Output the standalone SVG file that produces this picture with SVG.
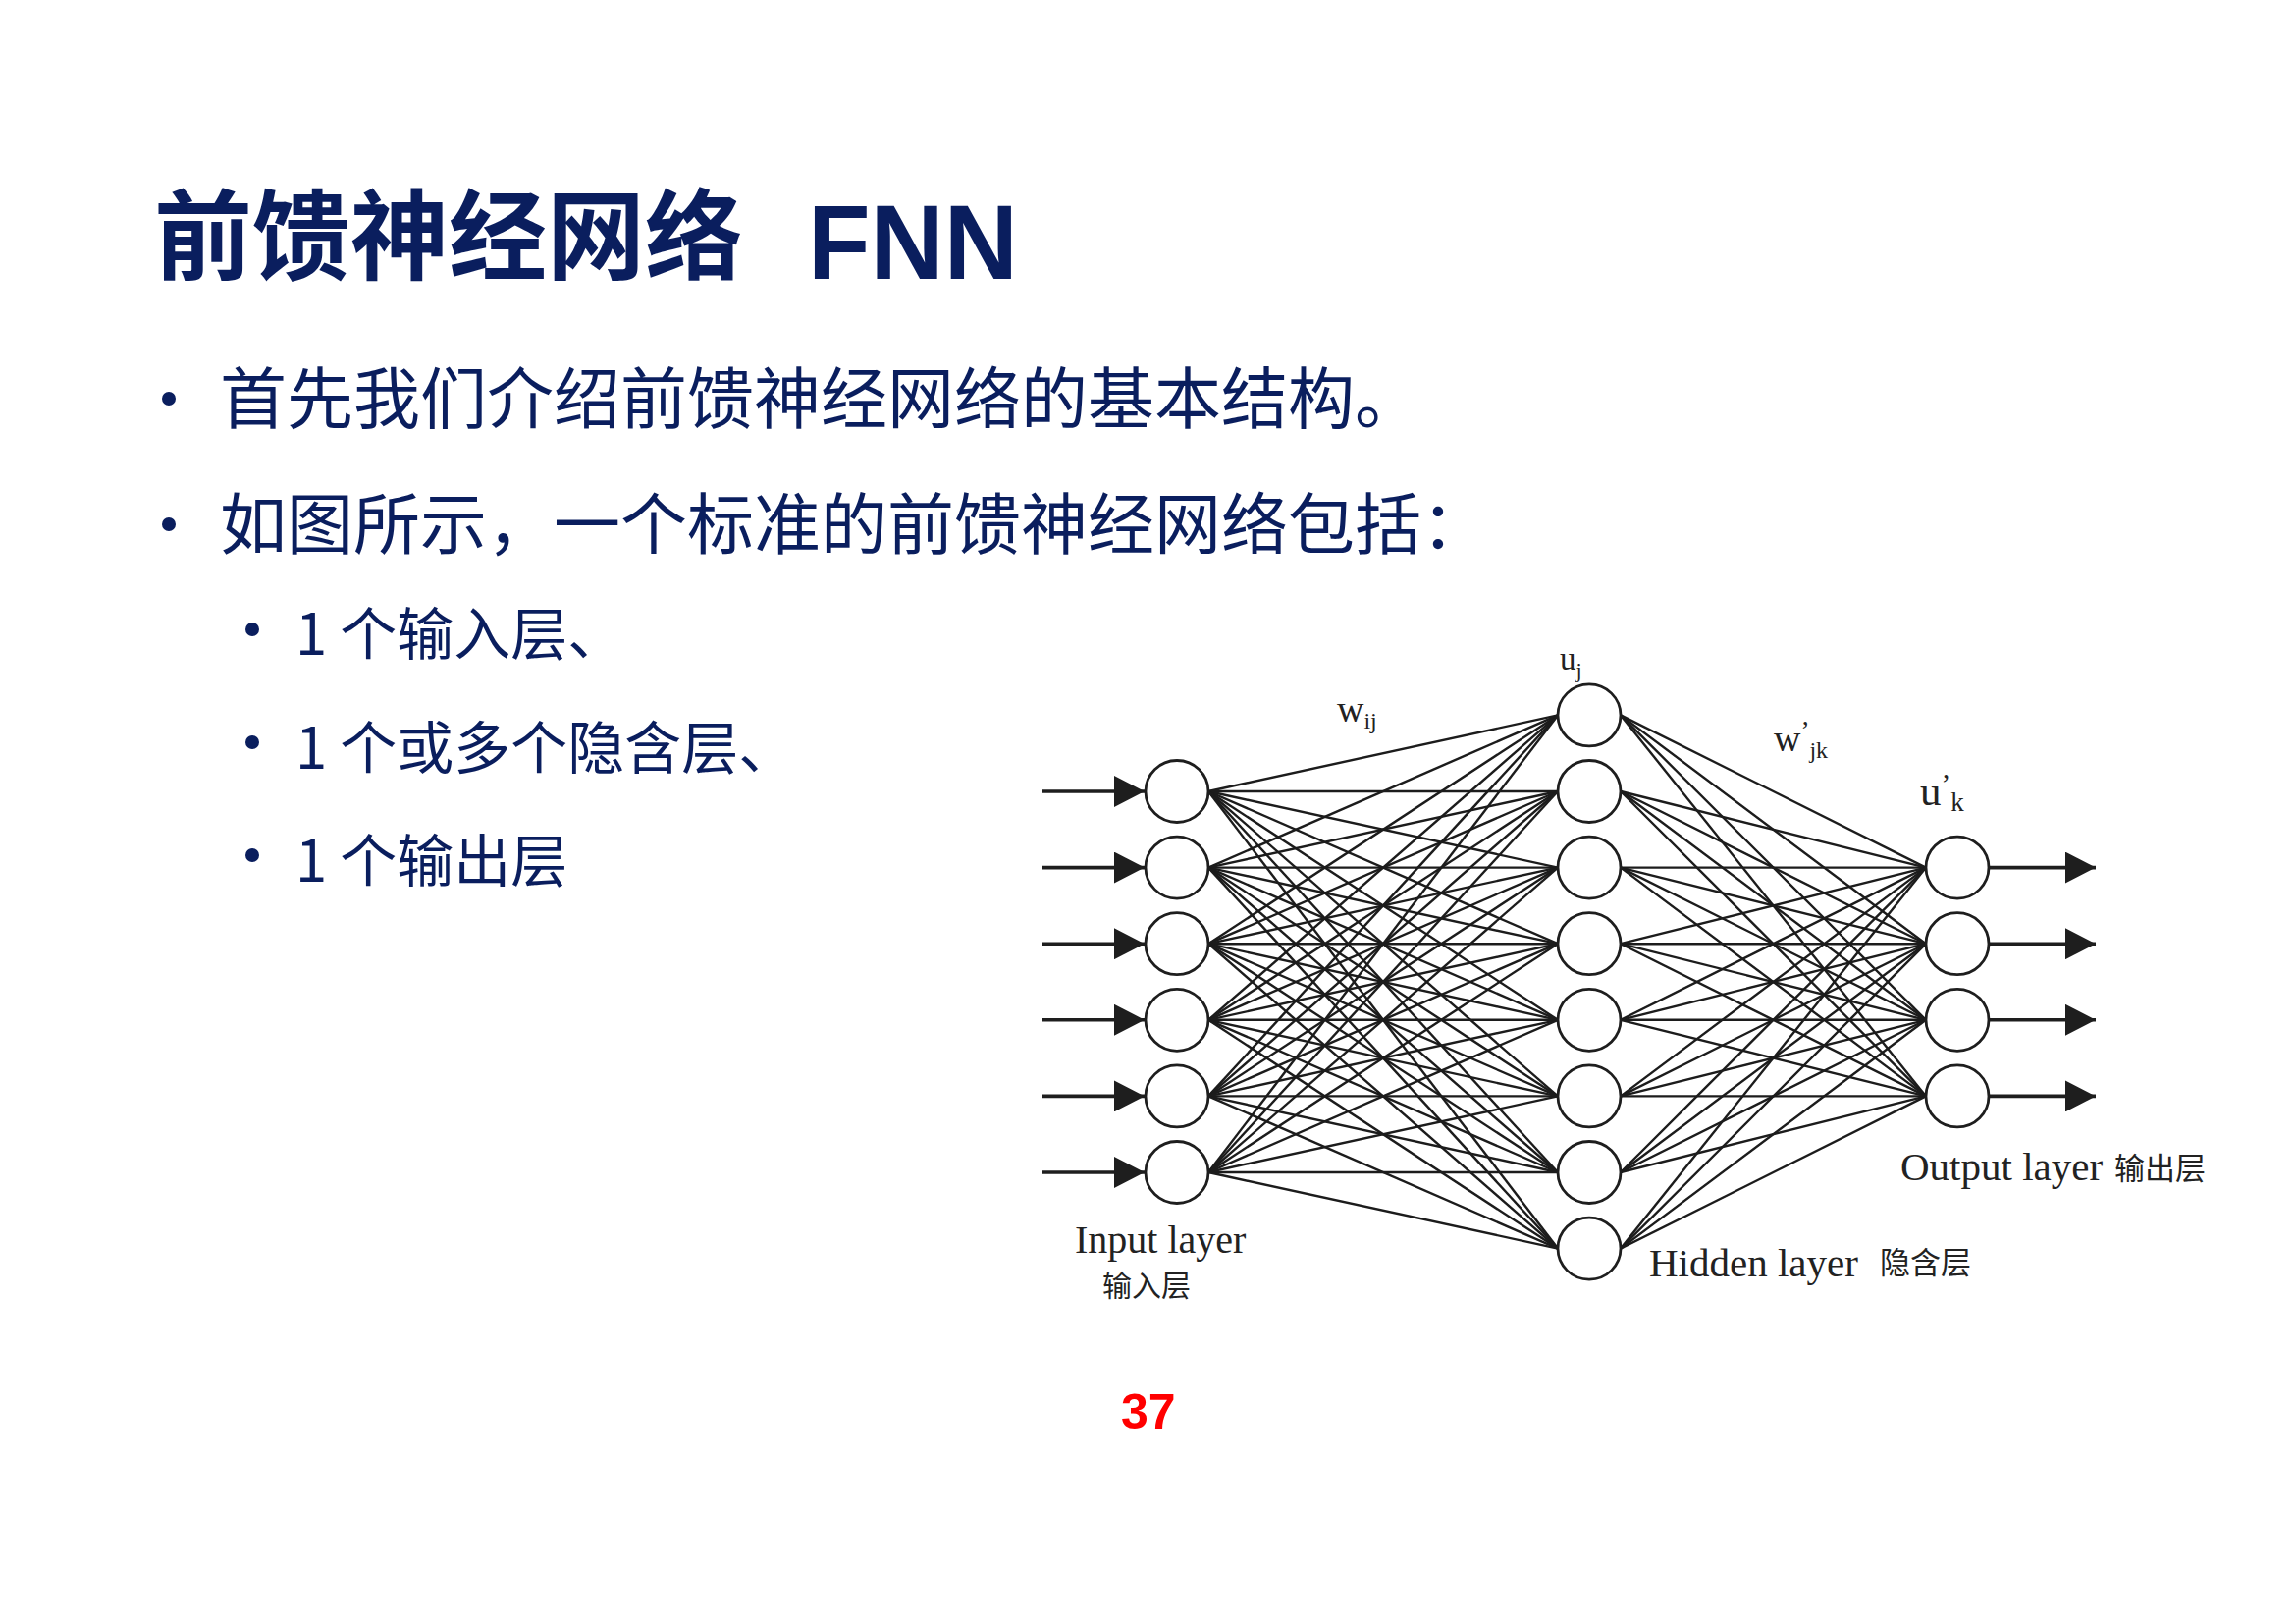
<svg xmlns="http://www.w3.org/2000/svg" width="2339" height="1654" viewBox="0 0 2339 1654">
<style>
.title{font-family:"Noto Sans CJK SC","Noto Sans",sans-serif;font-weight:bold;fill:#0A1E5E}
.fnn{font-family:"Liberation Sans",Arial,sans-serif;font-weight:bold;fill:#0A1E5E}
.body{font-family:"Noto Sans CJK SC","Noto Sans",sans-serif;fill:#0A1E5E}
.bul{fill:#0A1E5E}
.n{fill:#fff;stroke:#1e1e1e;stroke-width:2.8}
.e{stroke:#1c1c1c;stroke-width:2.4}
.a{stroke:#1e1e1e;stroke-width:3.6}
.lbl{font-family:"Liberation Serif","Times New Roman",serif;fill:#222}
.cjk{font-family:"Noto Sans CJK SC",sans-serif;fill:#222}
.pg{font-family:"Liberation Sans",Arial,sans-serif;font-weight:bold;fill:#FF0000}
</style>
<defs>
<marker id="ah" markerUnits="userSpaceOnUse" markerWidth="32" markerHeight="32" refX="31" refY="16" orient="auto">
<path d="M0,0 L31,16 L0,32 z" fill="#1e1e1e"/>
</marker>
</defs>
<rect width="2339" height="1654" fill="#fff"/>

<g id="title">
<text class="title" x="157" y="277" font-size="100">前馈神经网络</text>
<text class="fnn" x="823" y="284" font-size="108" textLength="214" lengthAdjust="spacingAndGlyphs">FNN</text>
</g>

<g id="bullets">
<circle class="bul" cx="172" cy="406" r="7"/>
<text class="body" x="224" y="431" font-size="68">首先我们介绍前馈神经网络的基本结构。</text>
<circle class="bul" cx="172" cy="534" r="7"/>
<text class="body" x="224" y="559" font-size="68">如图所示，一个标准的前馈神经网络包括：</text>
<circle class="bul" cx="257" cy="641" r="7"/>
<text class="body" x="301" y="667" font-size="58">1 个输入层、</text>
<circle class="bul" cx="257" cy="756" r="7"/>
<text class="body" x="301" y="783" font-size="58">1 个或多个隐含层、</text>
<circle class="bul" cx="257" cy="871" r="7"/>
<text class="body" x="301" y="898" font-size="58">1 个输出层</text>
</g>

<g id="connectors">
<line class="a" x1="1062" y1="806" x2="1166" y2="806" marker-end="url(#ah)"/>
<line class="a" x1="1062" y1="883.6" x2="1166" y2="883.6" marker-end="url(#ah)"/>
<line class="a" x1="1062" y1="961.2" x2="1166" y2="961.2" marker-end="url(#ah)"/>
<line class="a" x1="1062" y1="1038.8" x2="1166" y2="1038.8" marker-end="url(#ah)"/>
<line class="a" x1="1062" y1="1116.4" x2="1166" y2="1116.4" marker-end="url(#ah)"/>
<line class="a" x1="1062" y1="1194" x2="1166" y2="1194" marker-end="url(#ah)"/>

<line class="e" x1="1231" y1="806" x2="1587" y2="728.4"/>
<line class="e" x1="1231" y1="806" x2="1587" y2="806"/>
<line class="e" x1="1231" y1="806" x2="1587" y2="883.6"/>
<line class="e" x1="1231" y1="806" x2="1587" y2="961.2"/>
<line class="e" x1="1231" y1="806" x2="1587" y2="1038.8"/>
<line class="e" x1="1231" y1="806" x2="1587" y2="1116.4"/>
<line class="e" x1="1231" y1="806" x2="1587" y2="1194"/>
<line class="e" x1="1231" y1="806" x2="1587" y2="1271.6"/>

<line class="e" x1="1231" y1="883.6" x2="1587" y2="728.4"/>
<line class="e" x1="1231" y1="883.6" x2="1587" y2="806"/>
<line class="e" x1="1231" y1="883.6" x2="1587" y2="883.6"/>
<line class="e" x1="1231" y1="883.6" x2="1587" y2="961.2"/>
<line class="e" x1="1231" y1="883.6" x2="1587" y2="1038.8"/>
<line class="e" x1="1231" y1="883.6" x2="1587" y2="1116.4"/>
<line class="e" x1="1231" y1="883.6" x2="1587" y2="1194"/>
<line class="e" x1="1231" y1="883.6" x2="1587" y2="1271.6"/>

<line class="e" x1="1231" y1="961.2" x2="1587" y2="728.4"/>
<line class="e" x1="1231" y1="961.2" x2="1587" y2="806"/>
<line class="e" x1="1231" y1="961.2" x2="1587" y2="883.6"/>
<line class="e" x1="1231" y1="961.2" x2="1587" y2="961.2"/>
<line class="e" x1="1231" y1="961.2" x2="1587" y2="1038.8"/>
<line class="e" x1="1231" y1="961.2" x2="1587" y2="1116.4"/>
<line class="e" x1="1231" y1="961.2" x2="1587" y2="1194"/>
<line class="e" x1="1231" y1="961.2" x2="1587" y2="1271.6"/>

<line class="e" x1="1231" y1="1038.8" x2="1587" y2="728.4"/>
<line class="e" x1="1231" y1="1038.8" x2="1587" y2="806"/>
<line class="e" x1="1231" y1="1038.8" x2="1587" y2="883.6"/>
<line class="e" x1="1231" y1="1038.8" x2="1587" y2="961.2"/>
<line class="e" x1="1231" y1="1038.8" x2="1587" y2="1038.8"/>
<line class="e" x1="1231" y1="1038.8" x2="1587" y2="1116.4"/>
<line class="e" x1="1231" y1="1038.8" x2="1587" y2="1194"/>
<line class="e" x1="1231" y1="1038.8" x2="1587" y2="1271.6"/>

<line class="e" x1="1231" y1="1116.4" x2="1587" y2="728.4"/>
<line class="e" x1="1231" y1="1116.4" x2="1587" y2="806"/>
<line class="e" x1="1231" y1="1116.4" x2="1587" y2="883.6"/>
<line class="e" x1="1231" y1="1116.4" x2="1587" y2="961.2"/>
<line class="e" x1="1231" y1="1116.4" x2="1587" y2="1038.8"/>
<line class="e" x1="1231" y1="1116.4" x2="1587" y2="1116.4"/>
<line class="e" x1="1231" y1="1116.4" x2="1587" y2="1194"/>
<line class="e" x1="1231" y1="1116.4" x2="1587" y2="1271.6"/>

<line class="e" x1="1231" y1="1194" x2="1587" y2="728.4"/>
<line class="e" x1="1231" y1="1194" x2="1587" y2="806"/>
<line class="e" x1="1231" y1="1194" x2="1587" y2="883.6"/>
<line class="e" x1="1231" y1="1194" x2="1587" y2="961.2"/>
<line class="e" x1="1231" y1="1194" x2="1587" y2="1038.8"/>
<line class="e" x1="1231" y1="1194" x2="1587" y2="1116.4"/>
<line class="e" x1="1231" y1="1194" x2="1587" y2="1194"/>
<line class="e" x1="1231" y1="1194" x2="1587" y2="1271.6"/>

<line class="e" x1="1651" y1="728.4" x2="1962" y2="883.6"/>
<line class="e" x1="1651" y1="728.4" x2="1962" y2="961.2"/>
<line class="e" x1="1651" y1="728.4" x2="1962" y2="1038.8"/>
<line class="e" x1="1651" y1="728.4" x2="1962" y2="1116.4"/>
<line class="e" x1="1651" y1="806" x2="1962" y2="883.6"/>
<line class="e" x1="1651" y1="806" x2="1962" y2="961.2"/>
<line class="e" x1="1651" y1="806" x2="1962" y2="1038.8"/>
<line class="e" x1="1651" y1="806" x2="1962" y2="1116.4"/>
<line class="e" x1="1651" y1="883.6" x2="1962" y2="883.6"/>
<line class="e" x1="1651" y1="883.6" x2="1962" y2="961.2"/>
<line class="e" x1="1651" y1="883.6" x2="1962" y2="1038.8"/>
<line class="e" x1="1651" y1="883.6" x2="1962" y2="1116.4"/>
<line class="e" x1="1651" y1="961.2" x2="1962" y2="883.6"/>
<line class="e" x1="1651" y1="961.2" x2="1962" y2="961.2"/>
<line class="e" x1="1651" y1="961.2" x2="1962" y2="1038.8"/>
<line class="e" x1="1651" y1="961.2" x2="1962" y2="1116.4"/>
<line class="e" x1="1651" y1="1038.8" x2="1962" y2="883.6"/>
<line class="e" x1="1651" y1="1038.8" x2="1962" y2="961.2"/>
<line class="e" x1="1651" y1="1038.8" x2="1962" y2="1038.8"/>
<line class="e" x1="1651" y1="1038.8" x2="1962" y2="1116.4"/>
<line class="e" x1="1651" y1="1116.4" x2="1962" y2="883.6"/>
<line class="e" x1="1651" y1="1116.4" x2="1962" y2="961.2"/>
<line class="e" x1="1651" y1="1116.4" x2="1962" y2="1038.8"/>
<line class="e" x1="1651" y1="1116.4" x2="1962" y2="1116.4"/>
<line class="e" x1="1651" y1="1194" x2="1962" y2="883.6"/>
<line class="e" x1="1651" y1="1194" x2="1962" y2="961.2"/>
<line class="e" x1="1651" y1="1194" x2="1962" y2="1038.8"/>
<line class="e" x1="1651" y1="1194" x2="1962" y2="1116.4"/>
<line class="e" x1="1651" y1="1271.6" x2="1962" y2="883.6"/>
<line class="e" x1="1651" y1="1271.6" x2="1962" y2="961.2"/>
<line class="e" x1="1651" y1="1271.6" x2="1962" y2="1038.8"/>
<line class="e" x1="1651" y1="1271.6" x2="1962" y2="1116.4"/>

<line class="a" x1="2026" y1="883.6" x2="2135" y2="883.6" marker-end="url(#ah)"/>
<line class="a" x1="2026" y1="961.2" x2="2135" y2="961.2" marker-end="url(#ah)"/>
<line class="a" x1="2026" y1="1038.8" x2="2135" y2="1038.8" marker-end="url(#ah)"/>
<line class="a" x1="2026" y1="1116.4" x2="2135" y2="1116.4" marker-end="url(#ah)"/>
</g>

<g id="input-layer">
<g id="in1"><ellipse class="n" cx="1199" cy="806" rx="32" ry="31.5"/></g>
<g id="in2"><ellipse class="n" cx="1199" cy="883.6" rx="32" ry="31.5"/></g>
<g id="in3"><ellipse class="n" cx="1199" cy="961.2" rx="32" ry="31.5"/></g>
<g id="in4"><ellipse class="n" cx="1199" cy="1038.8" rx="32" ry="31.5"/></g>
<g id="in5"><ellipse class="n" cx="1199" cy="1116.4" rx="32" ry="31.5"/></g>
<g id="in6"><ellipse class="n" cx="1199" cy="1194" rx="32" ry="31.5"/></g>
</g>
<g id="hidden-layer">
<g id="h1"><ellipse class="n" cx="1619" cy="728.4" rx="32" ry="31.5"/></g>
<g id="h2"><ellipse class="n" cx="1619" cy="806" rx="32" ry="31.5"/></g>
<g id="h3"><ellipse class="n" cx="1619" cy="883.6" rx="32" ry="31.5"/></g>
<g id="h4"><ellipse class="n" cx="1619" cy="961.2" rx="32" ry="31.5"/></g>
<g id="h5"><ellipse class="n" cx="1619" cy="1038.8" rx="32" ry="31.5"/></g>
<g id="h6"><ellipse class="n" cx="1619" cy="1116.4" rx="32" ry="31.5"/></g>
<g id="h7"><ellipse class="n" cx="1619" cy="1194" rx="32" ry="31.5"/></g>
<g id="h8"><ellipse class="n" cx="1619" cy="1271.6" rx="32" ry="31.5"/></g>
</g>
<g id="output-layer">
<g id="o1"><ellipse class="n" cx="1994" cy="883.6" rx="32" ry="31.5"/></g>
<g id="o2"><ellipse class="n" cx="1994" cy="961.2" rx="32" ry="31.5"/></g>
<g id="o3"><ellipse class="n" cx="1994" cy="1038.8" rx="32" ry="31.5"/></g>
<g id="o4"><ellipse class="n" cx="1994" cy="1116.4" rx="32" ry="31.5"/></g>
</g>

<g id="labels">
<text class="lbl" x="1589" y="682" font-size="33">u<tspan font-size="22" dy="8">j</tspan></text>
<text class="lbl" x="1362" y="735" font-size="38">w<tspan font-size="24" dy="7">ij</tspan></text>
<text class="lbl" x="1807" y="765" font-size="38">w<tspan font-size="27" dy="-12">’</tspan><tspan font-size="24" dy="19">jk</tspan></text>
<text class="lbl" x="1956" y="820" font-size="43">u<tspan font-size="29" dy="-12">’</tspan><tspan font-size="27" dy="18">k</tspan></text>
<text class="lbl" x="1095" y="1276" font-size="40">Input layer</text>
<text class="cjk" x="1123" y="1320" font-size="30">输入层</text>
<text class="lbl" x="1680" y="1300" font-size="41">Hidden layer</text>
<text class="cjk" x="1915" y="1297" font-size="31">隐含层</text>
<text class="lbl" x="1936" y="1202" font-size="41">Output layer</text>
<text class="cjk" x="2154" y="1201" font-size="31">输出层</text>
</g>

<text class="pg" x="1142" y="1455" font-size="50">37</text>
</svg>
